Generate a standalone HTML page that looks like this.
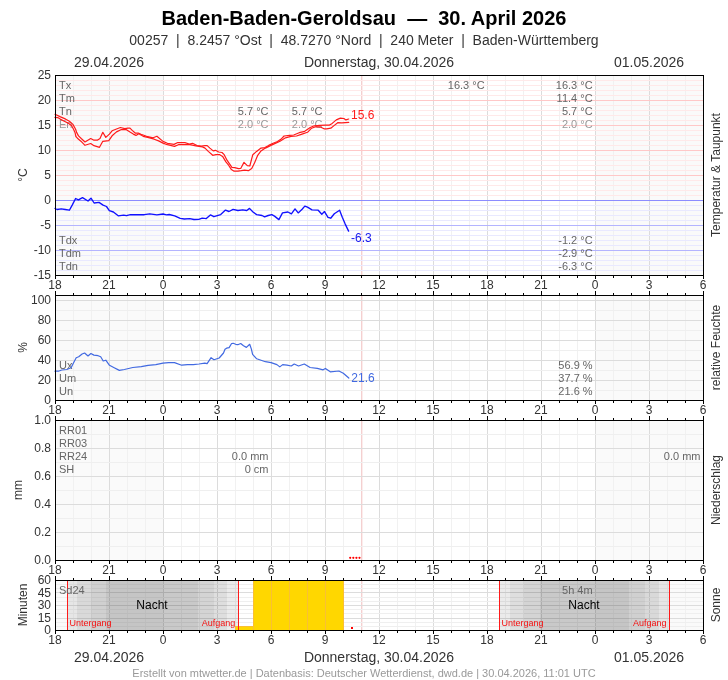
<!DOCTYPE html>
<html><head><meta charset="utf-8"><title>Baden-Baden-Geroldsau</title>
<style>
html,body{margin:0;padding:0;background:#fff;}
svg{display:block;}
text{font-family:"Liberation Sans", Arial, sans-serif;}
</style></head>
<body>
<svg width="728" height="680" viewBox="0 0 728 680" shape-rendering="auto">
<rect width="728" height="680" fill="#fff"/>
<text x="364" y="25" font-size="20" fill="#000" text-anchor="middle" font-weight="bold" >Baden-Baden-Geroldsau&#160; —&#160; 30. April 2026</text>
<text x="364" y="45" font-size="14" fill="#333" text-anchor="middle" font-weight="normal" >00257&#160; |&#160; 8.2457 °Ost&#160; |&#160; 48.7270 °Nord&#160; |&#160; 240 Meter&#160; |&#160; Baden-Württemberg</text>
<text x="109.0" y="67" font-size="14" fill="#333" text-anchor="middle" font-weight="normal" >29.04.2026</text>
<text x="379.0" y="67" font-size="14" fill="#333" text-anchor="middle" font-weight="normal" >Donnerstag, 30.04.2026</text>
<text x="649.0" y="67" font-size="14" fill="#333" text-anchor="middle" font-weight="normal" >01.05.2026</text>
<rect x="55" y="75" width="648" height="200" fill="#ffffff" />
<rect x="56" y="76" width="107" height="199" fill="#fafafa" />
<rect x="595" y="76" width="108" height="199" fill="#fafafa" />
<line x1="73.5" y1="76" x2="73.5" y2="275" stroke="#f1f1f1" stroke-width="1"/>
<line x1="91.5" y1="76" x2="91.5" y2="275" stroke="#f1f1f1" stroke-width="1"/>
<line x1="109.5" y1="76" x2="109.5" y2="275" stroke="#dcdcdc" stroke-width="1"/>
<line x1="127.5" y1="76" x2="127.5" y2="275" stroke="#f1f1f1" stroke-width="1"/>
<line x1="145.5" y1="76" x2="145.5" y2="275" stroke="#f1f1f1" stroke-width="1"/>
<line x1="163.5" y1="76" x2="163.5" y2="275" stroke="#dcdcdc" stroke-width="1"/>
<line x1="181.5" y1="76" x2="181.5" y2="275" stroke="#f1f1f1" stroke-width="1"/>
<line x1="199.5" y1="76" x2="199.5" y2="275" stroke="#f1f1f1" stroke-width="1"/>
<line x1="217.5" y1="76" x2="217.5" y2="275" stroke="#dcdcdc" stroke-width="1"/>
<line x1="235.5" y1="76" x2="235.5" y2="275" stroke="#f1f1f1" stroke-width="1"/>
<line x1="253.5" y1="76" x2="253.5" y2="275" stroke="#f1f1f1" stroke-width="1"/>
<line x1="271.5" y1="76" x2="271.5" y2="275" stroke="#dcdcdc" stroke-width="1"/>
<line x1="289.5" y1="76" x2="289.5" y2="275" stroke="#f1f1f1" stroke-width="1"/>
<line x1="307.5" y1="76" x2="307.5" y2="275" stroke="#f1f1f1" stroke-width="1"/>
<line x1="325.5" y1="76" x2="325.5" y2="275" stroke="#dcdcdc" stroke-width="1"/>
<line x1="343.5" y1="76" x2="343.5" y2="275" stroke="#f1f1f1" stroke-width="1"/>
<line x1="361.5" y1="76" x2="361.5" y2="275" stroke="#f1f1f1" stroke-width="1"/>
<line x1="379.5" y1="76" x2="379.5" y2="275" stroke="#dcdcdc" stroke-width="1"/>
<line x1="397.5" y1="76" x2="397.5" y2="275" stroke="#f1f1f1" stroke-width="1"/>
<line x1="415.5" y1="76" x2="415.5" y2="275" stroke="#f1f1f1" stroke-width="1"/>
<line x1="433.5" y1="76" x2="433.5" y2="275" stroke="#dcdcdc" stroke-width="1"/>
<line x1="451.5" y1="76" x2="451.5" y2="275" stroke="#f1f1f1" stroke-width="1"/>
<line x1="469.5" y1="76" x2="469.5" y2="275" stroke="#f1f1f1" stroke-width="1"/>
<line x1="487.5" y1="76" x2="487.5" y2="275" stroke="#dcdcdc" stroke-width="1"/>
<line x1="505.5" y1="76" x2="505.5" y2="275" stroke="#f1f1f1" stroke-width="1"/>
<line x1="523.5" y1="76" x2="523.5" y2="275" stroke="#f1f1f1" stroke-width="1"/>
<line x1="541.5" y1="76" x2="541.5" y2="275" stroke="#dcdcdc" stroke-width="1"/>
<line x1="559.5" y1="76" x2="559.5" y2="275" stroke="#f1f1f1" stroke-width="1"/>
<line x1="577.5" y1="76" x2="577.5" y2="275" stroke="#f1f1f1" stroke-width="1"/>
<line x1="595.5" y1="76" x2="595.5" y2="275" stroke="#dcdcdc" stroke-width="1"/>
<line x1="613.5" y1="76" x2="613.5" y2="275" stroke="#f1f1f1" stroke-width="1"/>
<line x1="631.5" y1="76" x2="631.5" y2="275" stroke="#f1f1f1" stroke-width="1"/>
<line x1="649.5" y1="76" x2="649.5" y2="275" stroke="#dcdcdc" stroke-width="1"/>
<line x1="667.5" y1="76" x2="667.5" y2="275" stroke="#f1f1f1" stroke-width="1"/>
<line x1="685.5" y1="76" x2="685.5" y2="275" stroke="#f1f1f1" stroke-width="1"/>
<line x1="361.8" y1="76" x2="361.8" y2="275" stroke="#f5c2c2" stroke-width="1"/>
<line x1="56" y1="270.5" x2="703" y2="270.5" stroke="#e9e9ff" stroke-width="1"/>
<line x1="56" y1="265.5" x2="703" y2="265.5" stroke="#e9e9ff" stroke-width="1"/>
<line x1="56" y1="260.5" x2="703" y2="260.5" stroke="#e9e9ff" stroke-width="1"/>
<line x1="56" y1="255.5" x2="703" y2="255.5" stroke="#e9e9ff" stroke-width="1"/>
<line x1="56" y1="250.5" x2="703" y2="250.5" stroke="#b4b4ff" stroke-width="1"/>
<line x1="56" y1="245.5" x2="703" y2="245.5" stroke="#e9e9ff" stroke-width="1"/>
<line x1="56" y1="240.5" x2="703" y2="240.5" stroke="#e9e9ff" stroke-width="1"/>
<line x1="56" y1="235.5" x2="703" y2="235.5" stroke="#e9e9ff" stroke-width="1"/>
<line x1="56" y1="230.5" x2="703" y2="230.5" stroke="#e9e9ff" stroke-width="1"/>
<line x1="56" y1="225.5" x2="703" y2="225.5" stroke="#b4b4ff" stroke-width="1"/>
<line x1="56" y1="220.5" x2="703" y2="220.5" stroke="#e9e9ff" stroke-width="1"/>
<line x1="56" y1="215.5" x2="703" y2="215.5" stroke="#e9e9ff" stroke-width="1"/>
<line x1="56" y1="210.5" x2="703" y2="210.5" stroke="#e9e9ff" stroke-width="1"/>
<line x1="56" y1="205.5" x2="703" y2="205.5" stroke="#e9e9ff" stroke-width="1"/>
<line x1="56" y1="195.5" x2="703" y2="195.5" stroke="#ffe9e9" stroke-width="1"/>
<line x1="56" y1="190.5" x2="703" y2="190.5" stroke="#ffe9e9" stroke-width="1"/>
<line x1="56" y1="185.5" x2="703" y2="185.5" stroke="#ffe9e9" stroke-width="1"/>
<line x1="56" y1="180.5" x2="703" y2="180.5" stroke="#ffe9e9" stroke-width="1"/>
<line x1="56" y1="175.5" x2="703" y2="175.5" stroke="#ffc8c8" stroke-width="1"/>
<line x1="56" y1="170.5" x2="703" y2="170.5" stroke="#ffe9e9" stroke-width="1"/>
<line x1="56" y1="165.5" x2="703" y2="165.5" stroke="#ffe9e9" stroke-width="1"/>
<line x1="56" y1="160.5" x2="703" y2="160.5" stroke="#ffe9e9" stroke-width="1"/>
<line x1="56" y1="155.5" x2="703" y2="155.5" stroke="#ffe9e9" stroke-width="1"/>
<line x1="56" y1="150.5" x2="703" y2="150.5" stroke="#ffc8c8" stroke-width="1"/>
<line x1="56" y1="145.5" x2="703" y2="145.5" stroke="#ffe9e9" stroke-width="1"/>
<line x1="56" y1="140.5" x2="703" y2="140.5" stroke="#ffe9e9" stroke-width="1"/>
<line x1="56" y1="135.5" x2="703" y2="135.5" stroke="#ffe9e9" stroke-width="1"/>
<line x1="56" y1="130.5" x2="703" y2="130.5" stroke="#ffe9e9" stroke-width="1"/>
<line x1="56" y1="125.5" x2="703" y2="125.5" stroke="#ffc8c8" stroke-width="1"/>
<line x1="56" y1="120.5" x2="703" y2="120.5" stroke="#ffe9e9" stroke-width="1"/>
<line x1="56" y1="115.5" x2="703" y2="115.5" stroke="#ffe9e9" stroke-width="1"/>
<line x1="56" y1="110.5" x2="703" y2="110.5" stroke="#ffe9e9" stroke-width="1"/>
<line x1="56" y1="105.5" x2="703" y2="105.5" stroke="#ffe9e9" stroke-width="1"/>
<line x1="56" y1="100.5" x2="703" y2="100.5" stroke="#ffc8c8" stroke-width="1"/>
<line x1="56" y1="95.5" x2="703" y2="95.5" stroke="#ffe9e9" stroke-width="1"/>
<line x1="56" y1="90.5" x2="703" y2="90.5" stroke="#ffe9e9" stroke-width="1"/>
<line x1="56" y1="85.5" x2="703" y2="85.5" stroke="#ffe9e9" stroke-width="1"/>
<line x1="56" y1="80.5" x2="703" y2="80.5" stroke="#ffe9e9" stroke-width="1"/>
<line x1="56" y1="200.5" x2="703" y2="200.5" stroke="#8c8cff" stroke-width="1"/>
<text x="59" y="88.7" font-size="11" fill="#666" text-anchor="start" >Tx</text>
<text x="59" y="101.60000000000001" font-size="11" fill="#666" text-anchor="start" >Tm</text>
<text x="59" y="114.5" font-size="11" fill="#666" text-anchor="start" >Tn</text>
<text x="59" y="128.4" font-size="11" fill="#999" text-anchor="start" >En</text>
<text x="59" y="243.8" font-size="11" fill="#666" text-anchor="start" >Tdx</text>
<text x="59" y="256.75" font-size="11" fill="#666" text-anchor="start" >Tdm</text>
<text x="59" y="269.7" font-size="11" fill="#666" text-anchor="start" >Tdn</text>
<text x="484.6" y="88.7" font-size="11" fill="#666" text-anchor="end" >16.3 °C</text>
<text x="592.6" y="88.7" font-size="11" fill="#666" text-anchor="end" >16.3 °C</text>
<text x="592.6" y="101.60000000000001" font-size="11" fill="#666" text-anchor="end" >11.4 °C</text>
<text x="592.6" y="114.5" font-size="11" fill="#666" text-anchor="end" >5.7 °C</text>
<text x="592.6" y="128.4" font-size="11" fill="#999" text-anchor="end" >2.0 °C</text>
<text x="268.5" y="114.5" font-size="11" fill="#666" text-anchor="end" >5.7 °C</text>
<text x="268.5" y="128.4" font-size="11" fill="#999" text-anchor="end" >2.0 °C</text>
<text x="322.5" y="114.5" font-size="11" fill="#666" text-anchor="end" >5.7 °C</text>
<text x="322.5" y="128.4" font-size="11" fill="#999" text-anchor="end" >2.0 °C</text>
<text x="592.6" y="243.8" font-size="11" fill="#666" text-anchor="end" >-1.2 °C</text>
<text x="592.6" y="256.75" font-size="11" fill="#666" text-anchor="end" >-2.9 °C</text>
<text x="592.6" y="269.7" font-size="11" fill="#666" text-anchor="end" >-6.3 °C</text>
<text x="351" y="118.6" font-size="12" fill="#ff1a1a" text-anchor="start" >15.6</text>
<text x="351" y="242.3" font-size="12" fill="#1515ee" text-anchor="start" >-6.3</text>
<polyline points="55.0,114.3 60.5,116.9 65.3,118.9 69.4,121.3 72.9,124.4 75.6,129.2 76.6,132.4 78.5,135.9 81.5,138.8 85.0,142.0 90.7,138.5 94.0,140.2 97.3,140.2 100.0,138.5 102.8,132.3 105.8,137.4 109.4,134.1 112.1,130.8 116.5,129.0 120.4,127.5 124.8,128.6 128.0,128.2 130.0,128.2 132.2,130.4 135.5,133.2 138.2,133.0 141.0,134.3 146.5,136.3 153.1,137.8 156.9,136.3 163.0,141.4 167.4,143.3 174.0,144.4 177.8,142.5 184.9,142.7 189.3,144.0 192.6,143.3 197.0,145.5 201.4,146.0 205.0,145.6 207.2,145.6 209.9,148.1 213.2,150.9 215.4,150.3 218.7,152.0 222.0,152.5 224.2,154.7 227.0,160.2 231.9,167.4 234.7,167.6 238.5,168.7 240.7,168.5 244.0,162.4 247.3,165.7 249.8,166.0 252.8,154.7 256.6,151.4 261.0,148.1 264.9,147.6 268.7,145.4 273.1,143.2 277.5,141.5 280.8,139.3 284.1,136.0 289.6,135.4 293.7,135.0 299.2,132.7 304.7,131.3 310.2,127.5 314.3,125.8 319.8,125.4 325.3,125.1 329.5,125.1 332.2,123.4 336.3,119.9 340.4,118.1 343.9,118.5 345.9,119.9 348.7,119.0" fill="none" stroke="#ff1a1a" stroke-width="1.2" stroke-linejoin="round" stroke-linecap="round" />
<polyline points="55.0,117.4 57.7,117.6 60.2,119.1 65.3,121.7 68.7,123.4 71.5,125.5 73.5,129.2 75.0,132.4 75.9,136.5 77.4,138.2 80.9,141.2 85.0,145.3 90.7,143.5 94.0,145.7 99.5,147.3 102.8,141.3 108.8,140.7 112.1,135.8 116.5,131.9 120.9,129.7 126.4,129.7 130.0,132.1 133.3,134.1 136.0,135.4 138.8,133.7 143.2,136.3 148.7,137.6 154.2,139.2 158.6,140.9 163.0,143.1 167.4,144.7 174.5,146.4 178.4,144.7 184.9,144.7 189.9,144.7 195.9,145.8 202.5,146.9 205.0,148.1 208.3,151.4 212.7,155.3 216.0,154.7 219.8,154.7 222.6,156.4 225.9,161.9 228.6,165.2 231.4,169.6 234.1,171.2 238.0,171.2 241.3,170.7 244.6,170.1 248.4,170.7 251.7,168.5 254.5,163.0 257.7,155.3 261.0,150.9 265.4,148.1 270.9,145.4 275.3,143.4 280.0,141.2 285.5,137.8 291.0,136.4 296.5,136.0 302.0,134.1 307.5,132.3 311.6,128.2 315.7,126.8 319.8,126.8 324.0,128.8 326.7,128.8 330.8,128.2 334.3,125.4 337.7,122.7 341.8,122.9 348.7,122.4" fill="none" stroke="#ff1a1a" stroke-width="1.2" stroke-linejoin="round" stroke-linecap="round" />
<polyline points="55.0,208.5 57.1,209.5 61.2,208.8 65.3,209.5 69.4,210.2 72.2,205.1 75.6,198.5 78.4,199.9 82.5,197.6 88.0,201.0 91.0,198.2 94.1,203.0 99.0,202.4 103.1,205.1 106.5,206.5 109.3,210.6 113.4,212.0 118.2,215.8 123.7,215.1 126.4,215.7 130.5,214.7 137.4,214.7 144.3,214.7 149.8,213.8 156.9,214.9 163.0,214.0 166.5,214.9 169.2,214.5 174.7,215.9 180.2,218.4 184.3,219.0 189.8,218.6 194.0,219.5 198.8,219.3 202.2,218.1 206.3,218.6 210.4,214.9 213.9,216.7 217.3,215.6 220.7,214.6 225.5,210.1 229.0,211.5 233.1,209.4 237.9,210.5 242.7,209.8 246.8,210.5 249.5,208.4 253.0,212.0 256.6,214.6 262.0,215.5 264.6,216.8 268.2,215.5 271.8,214.6 274.5,216.1 278.9,219.6 282.5,212.9 287.9,212.0 291.4,213.8 295.0,208.9 298.2,212.9 302.1,209.3 304.8,206.1 307.5,207.1 312.0,209.8 318.2,210.2 321.8,214.3 324.5,211.6 328.0,217.3 330.7,218.2 334.3,213.8 339.6,210.2 342.3,217.3 345.0,223.6 348.6,231.1" fill="none" stroke="#1010ff" stroke-width="1.35" stroke-linejoin="round" stroke-linecap="round" />
<rect x="55.5" y="75.5" width="648" height="200" fill="none" stroke="#000" stroke-width="1"/>
<line x1="55.5" y1="275" x2="55.5" y2="279" stroke="#000" stroke-width="1"/>
<line x1="73.5" y1="275" x2="73.5" y2="278" stroke="#000" stroke-width="1"/>
<line x1="91.5" y1="275" x2="91.5" y2="278" stroke="#000" stroke-width="1"/>
<line x1="109.5" y1="275" x2="109.5" y2="279" stroke="#000" stroke-width="1"/>
<line x1="127.5" y1="275" x2="127.5" y2="278" stroke="#000" stroke-width="1"/>
<line x1="145.5" y1="275" x2="145.5" y2="278" stroke="#000" stroke-width="1"/>
<line x1="163.5" y1="275" x2="163.5" y2="279" stroke="#000" stroke-width="1"/>
<line x1="181.5" y1="275" x2="181.5" y2="278" stroke="#000" stroke-width="1"/>
<line x1="199.5" y1="275" x2="199.5" y2="278" stroke="#000" stroke-width="1"/>
<line x1="217.5" y1="275" x2="217.5" y2="279" stroke="#000" stroke-width="1"/>
<line x1="235.5" y1="275" x2="235.5" y2="278" stroke="#000" stroke-width="1"/>
<line x1="253.5" y1="275" x2="253.5" y2="278" stroke="#000" stroke-width="1"/>
<line x1="271.5" y1="275" x2="271.5" y2="279" stroke="#000" stroke-width="1"/>
<line x1="289.5" y1="275" x2="289.5" y2="278" stroke="#000" stroke-width="1"/>
<line x1="307.5" y1="275" x2="307.5" y2="278" stroke="#000" stroke-width="1"/>
<line x1="325.5" y1="275" x2="325.5" y2="279" stroke="#000" stroke-width="1"/>
<line x1="343.5" y1="275" x2="343.5" y2="278" stroke="#000" stroke-width="1"/>
<line x1="361.5" y1="275" x2="361.5" y2="278" stroke="#000" stroke-width="1"/>
<line x1="379.5" y1="275" x2="379.5" y2="279" stroke="#000" stroke-width="1"/>
<line x1="397.5" y1="275" x2="397.5" y2="278" stroke="#000" stroke-width="1"/>
<line x1="415.5" y1="275" x2="415.5" y2="278" stroke="#000" stroke-width="1"/>
<line x1="433.5" y1="275" x2="433.5" y2="279" stroke="#000" stroke-width="1"/>
<line x1="451.5" y1="275" x2="451.5" y2="278" stroke="#000" stroke-width="1"/>
<line x1="469.5" y1="275" x2="469.5" y2="278" stroke="#000" stroke-width="1"/>
<line x1="487.5" y1="275" x2="487.5" y2="279" stroke="#000" stroke-width="1"/>
<line x1="505.5" y1="275" x2="505.5" y2="278" stroke="#000" stroke-width="1"/>
<line x1="523.5" y1="275" x2="523.5" y2="278" stroke="#000" stroke-width="1"/>
<line x1="541.5" y1="275" x2="541.5" y2="279" stroke="#000" stroke-width="1"/>
<line x1="559.5" y1="275" x2="559.5" y2="278" stroke="#000" stroke-width="1"/>
<line x1="577.5" y1="275" x2="577.5" y2="278" stroke="#000" stroke-width="1"/>
<line x1="595.5" y1="275" x2="595.5" y2="279" stroke="#000" stroke-width="1"/>
<line x1="613.5" y1="275" x2="613.5" y2="278" stroke="#000" stroke-width="1"/>
<line x1="631.5" y1="275" x2="631.5" y2="278" stroke="#000" stroke-width="1"/>
<line x1="649.5" y1="275" x2="649.5" y2="279" stroke="#000" stroke-width="1"/>
<line x1="667.5" y1="275" x2="667.5" y2="278" stroke="#000" stroke-width="1"/>
<line x1="685.5" y1="275" x2="685.5" y2="278" stroke="#000" stroke-width="1"/>
<line x1="703.5" y1="275" x2="703.5" y2="279" stroke="#000" stroke-width="1"/>
<text x="51" y="79.3" font-size="12" fill="#333" text-anchor="end" font-weight="normal" >25</text>
<text x="51" y="104.3" font-size="12" fill="#333" text-anchor="end" font-weight="normal" >20</text>
<text x="51" y="129.3" font-size="12" fill="#333" text-anchor="end" font-weight="normal" >15</text>
<text x="51" y="154.3" font-size="12" fill="#333" text-anchor="end" font-weight="normal" >10</text>
<text x="51" y="179.3" font-size="12" fill="#333" text-anchor="end" font-weight="normal" >5</text>
<text x="51" y="204.3" font-size="12" fill="#333" text-anchor="end" font-weight="normal" >0</text>
<text x="51" y="229.3" font-size="12" fill="#333" text-anchor="end" font-weight="normal" >-5</text>
<text x="51" y="254.3" font-size="12" fill="#333" text-anchor="end" font-weight="normal" >-10</text>
<text x="51" y="279.3" font-size="12" fill="#333" text-anchor="end" font-weight="normal" >-15</text>
<text x="55.0" y="289" font-size="12" fill="#333" text-anchor="middle" font-weight="normal" >18</text>
<text x="109.0" y="289" font-size="12" fill="#333" text-anchor="middle" font-weight="normal" >21</text>
<text x="163.0" y="289" font-size="12" fill="#333" text-anchor="middle" font-weight="normal" >0</text>
<text x="217.0" y="289" font-size="12" fill="#333" text-anchor="middle" font-weight="normal" >3</text>
<text x="271.0" y="289" font-size="12" fill="#333" text-anchor="middle" font-weight="normal" >6</text>
<text x="325.0" y="289" font-size="12" fill="#333" text-anchor="middle" font-weight="normal" >9</text>
<text x="379.0" y="289" font-size="12" fill="#333" text-anchor="middle" font-weight="normal" >12</text>
<text x="433.0" y="289" font-size="12" fill="#333" text-anchor="middle" font-weight="normal" >15</text>
<text x="487.0" y="289" font-size="12" fill="#333" text-anchor="middle" font-weight="normal" >18</text>
<text x="541.0" y="289" font-size="12" fill="#333" text-anchor="middle" font-weight="normal" >21</text>
<text x="595.0" y="289" font-size="12" fill="#333" text-anchor="middle" font-weight="normal" >0</text>
<text x="649.0" y="289" font-size="12" fill="#333" text-anchor="middle" font-weight="normal" >3</text>
<text x="703.0" y="289" font-size="12" fill="#333" text-anchor="middle" font-weight="normal" >6</text>
<rect x="55" y="295" width="648" height="105" fill="#ffffff" />
<rect x="56" y="296" width="107" height="104" fill="#fafafa" />
<rect x="595" y="296" width="108" height="104" fill="#fafafa" />
<line x1="73.5" y1="296" x2="73.5" y2="400" stroke="#f1f1f1" stroke-width="1"/>
<line x1="91.5" y1="296" x2="91.5" y2="400" stroke="#f1f1f1" stroke-width="1"/>
<line x1="109.5" y1="296" x2="109.5" y2="400" stroke="#dcdcdc" stroke-width="1"/>
<line x1="127.5" y1="296" x2="127.5" y2="400" stroke="#f1f1f1" stroke-width="1"/>
<line x1="145.5" y1="296" x2="145.5" y2="400" stroke="#f1f1f1" stroke-width="1"/>
<line x1="163.5" y1="296" x2="163.5" y2="400" stroke="#dcdcdc" stroke-width="1"/>
<line x1="181.5" y1="296" x2="181.5" y2="400" stroke="#f1f1f1" stroke-width="1"/>
<line x1="199.5" y1="296" x2="199.5" y2="400" stroke="#f1f1f1" stroke-width="1"/>
<line x1="217.5" y1="296" x2="217.5" y2="400" stroke="#dcdcdc" stroke-width="1"/>
<line x1="235.5" y1="296" x2="235.5" y2="400" stroke="#f1f1f1" stroke-width="1"/>
<line x1="253.5" y1="296" x2="253.5" y2="400" stroke="#f1f1f1" stroke-width="1"/>
<line x1="271.5" y1="296" x2="271.5" y2="400" stroke="#dcdcdc" stroke-width="1"/>
<line x1="289.5" y1="296" x2="289.5" y2="400" stroke="#f1f1f1" stroke-width="1"/>
<line x1="307.5" y1="296" x2="307.5" y2="400" stroke="#f1f1f1" stroke-width="1"/>
<line x1="325.5" y1="296" x2="325.5" y2="400" stroke="#dcdcdc" stroke-width="1"/>
<line x1="343.5" y1="296" x2="343.5" y2="400" stroke="#f1f1f1" stroke-width="1"/>
<line x1="361.5" y1="296" x2="361.5" y2="400" stroke="#f1f1f1" stroke-width="1"/>
<line x1="379.5" y1="296" x2="379.5" y2="400" stroke="#dcdcdc" stroke-width="1"/>
<line x1="397.5" y1="296" x2="397.5" y2="400" stroke="#f1f1f1" stroke-width="1"/>
<line x1="415.5" y1="296" x2="415.5" y2="400" stroke="#f1f1f1" stroke-width="1"/>
<line x1="433.5" y1="296" x2="433.5" y2="400" stroke="#dcdcdc" stroke-width="1"/>
<line x1="451.5" y1="296" x2="451.5" y2="400" stroke="#f1f1f1" stroke-width="1"/>
<line x1="469.5" y1="296" x2="469.5" y2="400" stroke="#f1f1f1" stroke-width="1"/>
<line x1="487.5" y1="296" x2="487.5" y2="400" stroke="#dcdcdc" stroke-width="1"/>
<line x1="505.5" y1="296" x2="505.5" y2="400" stroke="#f1f1f1" stroke-width="1"/>
<line x1="523.5" y1="296" x2="523.5" y2="400" stroke="#f1f1f1" stroke-width="1"/>
<line x1="541.5" y1="296" x2="541.5" y2="400" stroke="#dcdcdc" stroke-width="1"/>
<line x1="559.5" y1="296" x2="559.5" y2="400" stroke="#f1f1f1" stroke-width="1"/>
<line x1="577.5" y1="296" x2="577.5" y2="400" stroke="#f1f1f1" stroke-width="1"/>
<line x1="595.5" y1="296" x2="595.5" y2="400" stroke="#dcdcdc" stroke-width="1"/>
<line x1="613.5" y1="296" x2="613.5" y2="400" stroke="#f1f1f1" stroke-width="1"/>
<line x1="631.5" y1="296" x2="631.5" y2="400" stroke="#f1f1f1" stroke-width="1"/>
<line x1="649.5" y1="296" x2="649.5" y2="400" stroke="#dcdcdc" stroke-width="1"/>
<line x1="667.5" y1="296" x2="667.5" y2="400" stroke="#f1f1f1" stroke-width="1"/>
<line x1="685.5" y1="296" x2="685.5" y2="400" stroke="#f1f1f1" stroke-width="1"/>
<line x1="361.8" y1="296" x2="361.8" y2="400" stroke="#f5c2c2" stroke-width="1"/>
<line x1="56" y1="390.5" x2="703" y2="390.5" stroke="#efefef" stroke-width="1"/>
<line x1="56" y1="380.5" x2="703" y2="380.5" stroke="#dcdcdc" stroke-width="1"/>
<line x1="56" y1="370.5" x2="703" y2="370.5" stroke="#efefef" stroke-width="1"/>
<line x1="56" y1="360.5" x2="703" y2="360.5" stroke="#dcdcdc" stroke-width="1"/>
<line x1="56" y1="350.5" x2="703" y2="350.5" stroke="#efefef" stroke-width="1"/>
<line x1="56" y1="340.5" x2="703" y2="340.5" stroke="#dcdcdc" stroke-width="1"/>
<line x1="56" y1="330.5" x2="703" y2="330.5" stroke="#efefef" stroke-width="1"/>
<line x1="56" y1="320.5" x2="703" y2="320.5" stroke="#dcdcdc" stroke-width="1"/>
<line x1="56" y1="310.5" x2="703" y2="310.5" stroke="#efefef" stroke-width="1"/>
<line x1="56" y1="300.5" x2="703" y2="300.5" stroke="#dcdcdc" stroke-width="1"/>
<text x="59" y="368.6" font-size="11" fill="#666" text-anchor="start" >Ux</text>
<text x="59" y="381.55" font-size="11" fill="#666" text-anchor="start" >Um</text>
<text x="59" y="394.5" font-size="11" fill="#666" text-anchor="start" >Un</text>
<text x="592.6" y="368.6" font-size="11" fill="#666" text-anchor="end" >56.9 %</text>
<text x="592.6" y="381.55" font-size="11" fill="#666" text-anchor="end" >37.7 %</text>
<text x="592.6" y="394.5" font-size="11" fill="#666" text-anchor="end" >21.6 %</text>
<text x="351.3" y="382.1" font-size="12" fill="#4169e1" text-anchor="start" >21.6</text>
<polyline points="55.0,371.2 58.4,371.2 61.8,370.0 66.8,369.5 71.1,367.8 73.6,362.8 76.2,357.7 78.7,356.8 82.1,354.0 84.6,353.0 88.0,356.0 90.9,353.5 93.9,355.1 98.1,355.7 100.7,356.8 103.2,361.0 105.8,360.2 109.5,365.3 114.2,367.8 119.3,370.4 124.4,369.5 132.8,367.5 141.3,366.7 148.1,365.3 155.8,364.6 163.0,363.2 168.7,362.6 174.5,362.6 181.7,365.2 187.5,364.6 193.3,364.6 199.0,364.0 204.8,363.2 207.1,363.7 211.1,357.7 214.0,359.7 219.2,358.0 223.5,353.0 225.0,349.3 226.6,348.2 229.1,347.6 231.6,343.5 233.2,343.3 235.7,344.3 237.8,344.7 240.7,343.5 243.5,345.8 246.4,347.4 249.7,344.3 251.4,349.1 252.6,354.4 256.7,358.8 265.4,361.7 271.1,362.6 276.9,364.6 279.8,366.9 282.7,364.6 287.0,365.2 291.3,366.0 294.2,364.0 298.5,366.0 304.3,364.0 310.1,367.5 317.3,368.4 323.1,369.8 325.4,368.4 330.3,371.8 338.9,371.0 343.3,373.3 348.8,378.0" fill="none" stroke="#4169e1" stroke-width="1.2" stroke-linejoin="round" stroke-linecap="round" />
<rect x="55.5" y="295.5" width="648" height="105" fill="none" stroke="#000" stroke-width="1"/>
<line x1="55.5" y1="400" x2="55.5" y2="404" stroke="#000" stroke-width="1"/>
<line x1="55.5" y1="291" x2="55.5" y2="295" stroke="#000" stroke-width="1"/>
<line x1="73.5" y1="400" x2="73.5" y2="403" stroke="#000" stroke-width="1"/>
<line x1="73.5" y1="293" x2="73.5" y2="295" stroke="#000" stroke-width="1"/>
<line x1="91.5" y1="400" x2="91.5" y2="403" stroke="#000" stroke-width="1"/>
<line x1="91.5" y1="293" x2="91.5" y2="295" stroke="#000" stroke-width="1"/>
<line x1="109.5" y1="400" x2="109.5" y2="404" stroke="#000" stroke-width="1"/>
<line x1="109.5" y1="291" x2="109.5" y2="295" stroke="#000" stroke-width="1"/>
<line x1="127.5" y1="400" x2="127.5" y2="403" stroke="#000" stroke-width="1"/>
<line x1="127.5" y1="293" x2="127.5" y2="295" stroke="#000" stroke-width="1"/>
<line x1="145.5" y1="400" x2="145.5" y2="403" stroke="#000" stroke-width="1"/>
<line x1="145.5" y1="293" x2="145.5" y2="295" stroke="#000" stroke-width="1"/>
<line x1="163.5" y1="400" x2="163.5" y2="404" stroke="#000" stroke-width="1"/>
<line x1="163.5" y1="291" x2="163.5" y2="295" stroke="#000" stroke-width="1"/>
<line x1="181.5" y1="400" x2="181.5" y2="403" stroke="#000" stroke-width="1"/>
<line x1="181.5" y1="293" x2="181.5" y2="295" stroke="#000" stroke-width="1"/>
<line x1="199.5" y1="400" x2="199.5" y2="403" stroke="#000" stroke-width="1"/>
<line x1="199.5" y1="293" x2="199.5" y2="295" stroke="#000" stroke-width="1"/>
<line x1="217.5" y1="400" x2="217.5" y2="404" stroke="#000" stroke-width="1"/>
<line x1="217.5" y1="291" x2="217.5" y2="295" stroke="#000" stroke-width="1"/>
<line x1="235.5" y1="400" x2="235.5" y2="403" stroke="#000" stroke-width="1"/>
<line x1="235.5" y1="293" x2="235.5" y2="295" stroke="#000" stroke-width="1"/>
<line x1="253.5" y1="400" x2="253.5" y2="403" stroke="#000" stroke-width="1"/>
<line x1="253.5" y1="293" x2="253.5" y2="295" stroke="#000" stroke-width="1"/>
<line x1="271.5" y1="400" x2="271.5" y2="404" stroke="#000" stroke-width="1"/>
<line x1="271.5" y1="291" x2="271.5" y2="295" stroke="#000" stroke-width="1"/>
<line x1="289.5" y1="400" x2="289.5" y2="403" stroke="#000" stroke-width="1"/>
<line x1="289.5" y1="293" x2="289.5" y2="295" stroke="#000" stroke-width="1"/>
<line x1="307.5" y1="400" x2="307.5" y2="403" stroke="#000" stroke-width="1"/>
<line x1="307.5" y1="293" x2="307.5" y2="295" stroke="#000" stroke-width="1"/>
<line x1="325.5" y1="400" x2="325.5" y2="404" stroke="#000" stroke-width="1"/>
<line x1="325.5" y1="291" x2="325.5" y2="295" stroke="#000" stroke-width="1"/>
<line x1="343.5" y1="400" x2="343.5" y2="403" stroke="#000" stroke-width="1"/>
<line x1="343.5" y1="293" x2="343.5" y2="295" stroke="#000" stroke-width="1"/>
<line x1="361.5" y1="400" x2="361.5" y2="403" stroke="#000" stroke-width="1"/>
<line x1="361.5" y1="293" x2="361.5" y2="295" stroke="#000" stroke-width="1"/>
<line x1="379.5" y1="400" x2="379.5" y2="404" stroke="#000" stroke-width="1"/>
<line x1="379.5" y1="291" x2="379.5" y2="295" stroke="#000" stroke-width="1"/>
<line x1="397.5" y1="400" x2="397.5" y2="403" stroke="#000" stroke-width="1"/>
<line x1="397.5" y1="293" x2="397.5" y2="295" stroke="#000" stroke-width="1"/>
<line x1="415.5" y1="400" x2="415.5" y2="403" stroke="#000" stroke-width="1"/>
<line x1="415.5" y1="293" x2="415.5" y2="295" stroke="#000" stroke-width="1"/>
<line x1="433.5" y1="400" x2="433.5" y2="404" stroke="#000" stroke-width="1"/>
<line x1="433.5" y1="291" x2="433.5" y2="295" stroke="#000" stroke-width="1"/>
<line x1="451.5" y1="400" x2="451.5" y2="403" stroke="#000" stroke-width="1"/>
<line x1="451.5" y1="293" x2="451.5" y2="295" stroke="#000" stroke-width="1"/>
<line x1="469.5" y1="400" x2="469.5" y2="403" stroke="#000" stroke-width="1"/>
<line x1="469.5" y1="293" x2="469.5" y2="295" stroke="#000" stroke-width="1"/>
<line x1="487.5" y1="400" x2="487.5" y2="404" stroke="#000" stroke-width="1"/>
<line x1="487.5" y1="291" x2="487.5" y2="295" stroke="#000" stroke-width="1"/>
<line x1="505.5" y1="400" x2="505.5" y2="403" stroke="#000" stroke-width="1"/>
<line x1="505.5" y1="293" x2="505.5" y2="295" stroke="#000" stroke-width="1"/>
<line x1="523.5" y1="400" x2="523.5" y2="403" stroke="#000" stroke-width="1"/>
<line x1="523.5" y1="293" x2="523.5" y2="295" stroke="#000" stroke-width="1"/>
<line x1="541.5" y1="400" x2="541.5" y2="404" stroke="#000" stroke-width="1"/>
<line x1="541.5" y1="291" x2="541.5" y2="295" stroke="#000" stroke-width="1"/>
<line x1="559.5" y1="400" x2="559.5" y2="403" stroke="#000" stroke-width="1"/>
<line x1="559.5" y1="293" x2="559.5" y2="295" stroke="#000" stroke-width="1"/>
<line x1="577.5" y1="400" x2="577.5" y2="403" stroke="#000" stroke-width="1"/>
<line x1="577.5" y1="293" x2="577.5" y2="295" stroke="#000" stroke-width="1"/>
<line x1="595.5" y1="400" x2="595.5" y2="404" stroke="#000" stroke-width="1"/>
<line x1="595.5" y1="291" x2="595.5" y2="295" stroke="#000" stroke-width="1"/>
<line x1="613.5" y1="400" x2="613.5" y2="403" stroke="#000" stroke-width="1"/>
<line x1="613.5" y1="293" x2="613.5" y2="295" stroke="#000" stroke-width="1"/>
<line x1="631.5" y1="400" x2="631.5" y2="403" stroke="#000" stroke-width="1"/>
<line x1="631.5" y1="293" x2="631.5" y2="295" stroke="#000" stroke-width="1"/>
<line x1="649.5" y1="400" x2="649.5" y2="404" stroke="#000" stroke-width="1"/>
<line x1="649.5" y1="291" x2="649.5" y2="295" stroke="#000" stroke-width="1"/>
<line x1="667.5" y1="400" x2="667.5" y2="403" stroke="#000" stroke-width="1"/>
<line x1="667.5" y1="293" x2="667.5" y2="295" stroke="#000" stroke-width="1"/>
<line x1="685.5" y1="400" x2="685.5" y2="403" stroke="#000" stroke-width="1"/>
<line x1="685.5" y1="293" x2="685.5" y2="295" stroke="#000" stroke-width="1"/>
<line x1="703.5" y1="400" x2="703.5" y2="404" stroke="#000" stroke-width="1"/>
<line x1="703.5" y1="291" x2="703.5" y2="295" stroke="#000" stroke-width="1"/>
<text x="51" y="304.3" font-size="12" fill="#333" text-anchor="end" font-weight="normal" >100</text>
<text x="51" y="324.3" font-size="12" fill="#333" text-anchor="end" font-weight="normal" >80</text>
<text x="51" y="344.3" font-size="12" fill="#333" text-anchor="end" font-weight="normal" >60</text>
<text x="51" y="364.3" font-size="12" fill="#333" text-anchor="end" font-weight="normal" >40</text>
<text x="51" y="384.3" font-size="12" fill="#333" text-anchor="end" font-weight="normal" >20</text>
<text x="51" y="404.3" font-size="12" fill="#333" text-anchor="end" font-weight="normal" >0</text>
<text x="55.0" y="413.7" font-size="12" fill="#333" text-anchor="middle" font-weight="normal" >18</text>
<text x="109.0" y="413.7" font-size="12" fill="#333" text-anchor="middle" font-weight="normal" >21</text>
<text x="163.0" y="413.7" font-size="12" fill="#333" text-anchor="middle" font-weight="normal" >0</text>
<text x="217.0" y="413.7" font-size="12" fill="#333" text-anchor="middle" font-weight="normal" >3</text>
<text x="271.0" y="413.7" font-size="12" fill="#333" text-anchor="middle" font-weight="normal" >6</text>
<text x="325.0" y="413.7" font-size="12" fill="#333" text-anchor="middle" font-weight="normal" >9</text>
<text x="379.0" y="413.7" font-size="12" fill="#333" text-anchor="middle" font-weight="normal" >12</text>
<text x="433.0" y="413.7" font-size="12" fill="#333" text-anchor="middle" font-weight="normal" >15</text>
<text x="487.0" y="413.7" font-size="12" fill="#333" text-anchor="middle" font-weight="normal" >18</text>
<text x="541.0" y="413.7" font-size="12" fill="#333" text-anchor="middle" font-weight="normal" >21</text>
<text x="595.0" y="413.7" font-size="12" fill="#333" text-anchor="middle" font-weight="normal" >0</text>
<text x="649.0" y="413.7" font-size="12" fill="#333" text-anchor="middle" font-weight="normal" >3</text>
<text x="703.0" y="413.7" font-size="12" fill="#333" text-anchor="middle" font-weight="normal" >6</text>
<rect x="55" y="420" width="648" height="140" fill="#ffffff" />
<rect x="56" y="421" width="107" height="139" fill="#fafafa" />
<rect x="595" y="421" width="108" height="139" fill="#fafafa" />
<line x1="73.5" y1="421" x2="73.5" y2="560" stroke="#f1f1f1" stroke-width="1"/>
<line x1="91.5" y1="421" x2="91.5" y2="560" stroke="#f1f1f1" stroke-width="1"/>
<line x1="109.5" y1="421" x2="109.5" y2="560" stroke="#dcdcdc" stroke-width="1"/>
<line x1="127.5" y1="421" x2="127.5" y2="560" stroke="#f1f1f1" stroke-width="1"/>
<line x1="145.5" y1="421" x2="145.5" y2="560" stroke="#f1f1f1" stroke-width="1"/>
<line x1="163.5" y1="421" x2="163.5" y2="560" stroke="#dcdcdc" stroke-width="1"/>
<line x1="181.5" y1="421" x2="181.5" y2="560" stroke="#f1f1f1" stroke-width="1"/>
<line x1="199.5" y1="421" x2="199.5" y2="560" stroke="#f1f1f1" stroke-width="1"/>
<line x1="217.5" y1="421" x2="217.5" y2="560" stroke="#dcdcdc" stroke-width="1"/>
<line x1="235.5" y1="421" x2="235.5" y2="560" stroke="#f1f1f1" stroke-width="1"/>
<line x1="253.5" y1="421" x2="253.5" y2="560" stroke="#f1f1f1" stroke-width="1"/>
<line x1="271.5" y1="421" x2="271.5" y2="560" stroke="#dcdcdc" stroke-width="1"/>
<line x1="289.5" y1="421" x2="289.5" y2="560" stroke="#f1f1f1" stroke-width="1"/>
<line x1="307.5" y1="421" x2="307.5" y2="560" stroke="#f1f1f1" stroke-width="1"/>
<line x1="325.5" y1="421" x2="325.5" y2="560" stroke="#dcdcdc" stroke-width="1"/>
<line x1="343.5" y1="421" x2="343.5" y2="560" stroke="#f1f1f1" stroke-width="1"/>
<line x1="361.5" y1="421" x2="361.5" y2="560" stroke="#f1f1f1" stroke-width="1"/>
<line x1="379.5" y1="421" x2="379.5" y2="560" stroke="#dcdcdc" stroke-width="1"/>
<line x1="397.5" y1="421" x2="397.5" y2="560" stroke="#f1f1f1" stroke-width="1"/>
<line x1="415.5" y1="421" x2="415.5" y2="560" stroke="#f1f1f1" stroke-width="1"/>
<line x1="433.5" y1="421" x2="433.5" y2="560" stroke="#dcdcdc" stroke-width="1"/>
<line x1="451.5" y1="421" x2="451.5" y2="560" stroke="#f1f1f1" stroke-width="1"/>
<line x1="469.5" y1="421" x2="469.5" y2="560" stroke="#f1f1f1" stroke-width="1"/>
<line x1="487.5" y1="421" x2="487.5" y2="560" stroke="#dcdcdc" stroke-width="1"/>
<line x1="505.5" y1="421" x2="505.5" y2="560" stroke="#f1f1f1" stroke-width="1"/>
<line x1="523.5" y1="421" x2="523.5" y2="560" stroke="#f1f1f1" stroke-width="1"/>
<line x1="541.5" y1="421" x2="541.5" y2="560" stroke="#dcdcdc" stroke-width="1"/>
<line x1="559.5" y1="421" x2="559.5" y2="560" stroke="#f1f1f1" stroke-width="1"/>
<line x1="577.5" y1="421" x2="577.5" y2="560" stroke="#f1f1f1" stroke-width="1"/>
<line x1="595.5" y1="421" x2="595.5" y2="560" stroke="#dcdcdc" stroke-width="1"/>
<line x1="613.5" y1="421" x2="613.5" y2="560" stroke="#f1f1f1" stroke-width="1"/>
<line x1="631.5" y1="421" x2="631.5" y2="560" stroke="#f1f1f1" stroke-width="1"/>
<line x1="649.5" y1="421" x2="649.5" y2="560" stroke="#dcdcdc" stroke-width="1"/>
<line x1="667.5" y1="421" x2="667.5" y2="560" stroke="#f1f1f1" stroke-width="1"/>
<line x1="685.5" y1="421" x2="685.5" y2="560" stroke="#f1f1f1" stroke-width="1"/>
<line x1="361.8" y1="421" x2="361.8" y2="560" stroke="#f5c2c2" stroke-width="1"/>
<line x1="56" y1="546.5" x2="703" y2="546.5" stroke="#efefef" stroke-width="1"/>
<line x1="56" y1="532.5" x2="703" y2="532.5" stroke="#dcdcdc" stroke-width="1"/>
<line x1="56" y1="518.5" x2="703" y2="518.5" stroke="#efefef" stroke-width="1"/>
<line x1="56" y1="504.5" x2="703" y2="504.5" stroke="#dcdcdc" stroke-width="1"/>
<line x1="56" y1="490.5" x2="703" y2="490.5" stroke="#efefef" stroke-width="1"/>
<line x1="56" y1="476.5" x2="703" y2="476.5" stroke="#dcdcdc" stroke-width="1"/>
<line x1="56" y1="462.5" x2="703" y2="462.5" stroke="#efefef" stroke-width="1"/>
<line x1="56" y1="448.5" x2="703" y2="448.5" stroke="#dcdcdc" stroke-width="1"/>
<line x1="56" y1="434.5" x2="703" y2="434.5" stroke="#efefef" stroke-width="1"/>
<text x="59" y="433.7" font-size="11" fill="#666" text-anchor="start" >RR01</text>
<text x="59" y="446.65" font-size="11" fill="#666" text-anchor="start" >RR03</text>
<text x="59" y="459.59999999999997" font-size="11" fill="#666" text-anchor="start" >RR24</text>
<text x="59" y="472.54999999999995" font-size="11" fill="#666" text-anchor="start" >SH</text>
<text x="268.5" y="459.7" font-size="11" fill="#666" text-anchor="end" >0.0 mm</text>
<text x="268.5" y="472.8" font-size="11" fill="#666" text-anchor="end" >0 cm</text>
<text x="700.5" y="459.7" font-size="11" fill="#666" text-anchor="end" >0.0 mm</text>
<circle cx="350.2" cy="557.8" r="1.1" fill="#ff0000"/>
<circle cx="353.3" cy="557.8" r="1.1" fill="#ff0000"/>
<circle cx="356.4" cy="557.8" r="1.1" fill="#ff0000"/>
<circle cx="359.5" cy="557.8" r="1.1" fill="#ff0000"/>
<rect x="55.5" y="420.5" width="648" height="140" fill="none" stroke="#000" stroke-width="1"/>
<line x1="55.5" y1="560" x2="55.5" y2="564" stroke="#000" stroke-width="1"/>
<line x1="55.5" y1="416" x2="55.5" y2="420" stroke="#000" stroke-width="1"/>
<line x1="73.5" y1="560" x2="73.5" y2="563" stroke="#000" stroke-width="1"/>
<line x1="73.5" y1="418" x2="73.5" y2="420" stroke="#000" stroke-width="1"/>
<line x1="91.5" y1="560" x2="91.5" y2="563" stroke="#000" stroke-width="1"/>
<line x1="91.5" y1="418" x2="91.5" y2="420" stroke="#000" stroke-width="1"/>
<line x1="109.5" y1="560" x2="109.5" y2="564" stroke="#000" stroke-width="1"/>
<line x1="109.5" y1="416" x2="109.5" y2="420" stroke="#000" stroke-width="1"/>
<line x1="127.5" y1="560" x2="127.5" y2="563" stroke="#000" stroke-width="1"/>
<line x1="127.5" y1="418" x2="127.5" y2="420" stroke="#000" stroke-width="1"/>
<line x1="145.5" y1="560" x2="145.5" y2="563" stroke="#000" stroke-width="1"/>
<line x1="145.5" y1="418" x2="145.5" y2="420" stroke="#000" stroke-width="1"/>
<line x1="163.5" y1="560" x2="163.5" y2="564" stroke="#000" stroke-width="1"/>
<line x1="163.5" y1="416" x2="163.5" y2="420" stroke="#000" stroke-width="1"/>
<line x1="181.5" y1="560" x2="181.5" y2="563" stroke="#000" stroke-width="1"/>
<line x1="181.5" y1="418" x2="181.5" y2="420" stroke="#000" stroke-width="1"/>
<line x1="199.5" y1="560" x2="199.5" y2="563" stroke="#000" stroke-width="1"/>
<line x1="199.5" y1="418" x2="199.5" y2="420" stroke="#000" stroke-width="1"/>
<line x1="217.5" y1="560" x2="217.5" y2="564" stroke="#000" stroke-width="1"/>
<line x1="217.5" y1="416" x2="217.5" y2="420" stroke="#000" stroke-width="1"/>
<line x1="235.5" y1="560" x2="235.5" y2="563" stroke="#000" stroke-width="1"/>
<line x1="235.5" y1="418" x2="235.5" y2="420" stroke="#000" stroke-width="1"/>
<line x1="253.5" y1="560" x2="253.5" y2="563" stroke="#000" stroke-width="1"/>
<line x1="253.5" y1="418" x2="253.5" y2="420" stroke="#000" stroke-width="1"/>
<line x1="271.5" y1="560" x2="271.5" y2="564" stroke="#000" stroke-width="1"/>
<line x1="271.5" y1="416" x2="271.5" y2="420" stroke="#000" stroke-width="1"/>
<line x1="289.5" y1="560" x2="289.5" y2="563" stroke="#000" stroke-width="1"/>
<line x1="289.5" y1="418" x2="289.5" y2="420" stroke="#000" stroke-width="1"/>
<line x1="307.5" y1="560" x2="307.5" y2="563" stroke="#000" stroke-width="1"/>
<line x1="307.5" y1="418" x2="307.5" y2="420" stroke="#000" stroke-width="1"/>
<line x1="325.5" y1="560" x2="325.5" y2="564" stroke="#000" stroke-width="1"/>
<line x1="325.5" y1="416" x2="325.5" y2="420" stroke="#000" stroke-width="1"/>
<line x1="343.5" y1="560" x2="343.5" y2="563" stroke="#000" stroke-width="1"/>
<line x1="343.5" y1="418" x2="343.5" y2="420" stroke="#000" stroke-width="1"/>
<line x1="361.5" y1="560" x2="361.5" y2="563" stroke="#000" stroke-width="1"/>
<line x1="361.5" y1="418" x2="361.5" y2="420" stroke="#000" stroke-width="1"/>
<line x1="379.5" y1="560" x2="379.5" y2="564" stroke="#000" stroke-width="1"/>
<line x1="379.5" y1="416" x2="379.5" y2="420" stroke="#000" stroke-width="1"/>
<line x1="397.5" y1="560" x2="397.5" y2="563" stroke="#000" stroke-width="1"/>
<line x1="397.5" y1="418" x2="397.5" y2="420" stroke="#000" stroke-width="1"/>
<line x1="415.5" y1="560" x2="415.5" y2="563" stroke="#000" stroke-width="1"/>
<line x1="415.5" y1="418" x2="415.5" y2="420" stroke="#000" stroke-width="1"/>
<line x1="433.5" y1="560" x2="433.5" y2="564" stroke="#000" stroke-width="1"/>
<line x1="433.5" y1="416" x2="433.5" y2="420" stroke="#000" stroke-width="1"/>
<line x1="451.5" y1="560" x2="451.5" y2="563" stroke="#000" stroke-width="1"/>
<line x1="451.5" y1="418" x2="451.5" y2="420" stroke="#000" stroke-width="1"/>
<line x1="469.5" y1="560" x2="469.5" y2="563" stroke="#000" stroke-width="1"/>
<line x1="469.5" y1="418" x2="469.5" y2="420" stroke="#000" stroke-width="1"/>
<line x1="487.5" y1="560" x2="487.5" y2="564" stroke="#000" stroke-width="1"/>
<line x1="487.5" y1="416" x2="487.5" y2="420" stroke="#000" stroke-width="1"/>
<line x1="505.5" y1="560" x2="505.5" y2="563" stroke="#000" stroke-width="1"/>
<line x1="505.5" y1="418" x2="505.5" y2="420" stroke="#000" stroke-width="1"/>
<line x1="523.5" y1="560" x2="523.5" y2="563" stroke="#000" stroke-width="1"/>
<line x1="523.5" y1="418" x2="523.5" y2="420" stroke="#000" stroke-width="1"/>
<line x1="541.5" y1="560" x2="541.5" y2="564" stroke="#000" stroke-width="1"/>
<line x1="541.5" y1="416" x2="541.5" y2="420" stroke="#000" stroke-width="1"/>
<line x1="559.5" y1="560" x2="559.5" y2="563" stroke="#000" stroke-width="1"/>
<line x1="559.5" y1="418" x2="559.5" y2="420" stroke="#000" stroke-width="1"/>
<line x1="577.5" y1="560" x2="577.5" y2="563" stroke="#000" stroke-width="1"/>
<line x1="577.5" y1="418" x2="577.5" y2="420" stroke="#000" stroke-width="1"/>
<line x1="595.5" y1="560" x2="595.5" y2="564" stroke="#000" stroke-width="1"/>
<line x1="595.5" y1="416" x2="595.5" y2="420" stroke="#000" stroke-width="1"/>
<line x1="613.5" y1="560" x2="613.5" y2="563" stroke="#000" stroke-width="1"/>
<line x1="613.5" y1="418" x2="613.5" y2="420" stroke="#000" stroke-width="1"/>
<line x1="631.5" y1="560" x2="631.5" y2="563" stroke="#000" stroke-width="1"/>
<line x1="631.5" y1="418" x2="631.5" y2="420" stroke="#000" stroke-width="1"/>
<line x1="649.5" y1="560" x2="649.5" y2="564" stroke="#000" stroke-width="1"/>
<line x1="649.5" y1="416" x2="649.5" y2="420" stroke="#000" stroke-width="1"/>
<line x1="667.5" y1="560" x2="667.5" y2="563" stroke="#000" stroke-width="1"/>
<line x1="667.5" y1="418" x2="667.5" y2="420" stroke="#000" stroke-width="1"/>
<line x1="685.5" y1="560" x2="685.5" y2="563" stroke="#000" stroke-width="1"/>
<line x1="685.5" y1="418" x2="685.5" y2="420" stroke="#000" stroke-width="1"/>
<line x1="703.5" y1="560" x2="703.5" y2="564" stroke="#000" stroke-width="1"/>
<line x1="703.5" y1="416" x2="703.5" y2="420" stroke="#000" stroke-width="1"/>
<text x="51" y="424.3" font-size="12" fill="#333" text-anchor="end" font-weight="normal" >1.0</text>
<text x="51" y="452.3" font-size="12" fill="#333" text-anchor="end" font-weight="normal" >0.8</text>
<text x="51" y="480.3" font-size="12" fill="#333" text-anchor="end" font-weight="normal" >0.6</text>
<text x="51" y="508.3" font-size="12" fill="#333" text-anchor="end" font-weight="normal" >0.4</text>
<text x="51" y="536.3" font-size="12" fill="#333" text-anchor="end" font-weight="normal" >0.2</text>
<text x="51" y="564.3" font-size="12" fill="#333" text-anchor="end" font-weight="normal" >0.0</text>
<text x="55.0" y="573.8" font-size="12" fill="#333" text-anchor="middle" font-weight="normal" >18</text>
<text x="109.0" y="573.8" font-size="12" fill="#333" text-anchor="middle" font-weight="normal" >21</text>
<text x="163.0" y="573.8" font-size="12" fill="#333" text-anchor="middle" font-weight="normal" >0</text>
<text x="217.0" y="573.8" font-size="12" fill="#333" text-anchor="middle" font-weight="normal" >3</text>
<text x="271.0" y="573.8" font-size="12" fill="#333" text-anchor="middle" font-weight="normal" >6</text>
<text x="325.0" y="573.8" font-size="12" fill="#333" text-anchor="middle" font-weight="normal" >9</text>
<text x="379.0" y="573.8" font-size="12" fill="#333" text-anchor="middle" font-weight="normal" >12</text>
<text x="433.0" y="573.8" font-size="12" fill="#333" text-anchor="middle" font-weight="normal" >15</text>
<text x="487.0" y="573.8" font-size="12" fill="#333" text-anchor="middle" font-weight="normal" >18</text>
<text x="541.0" y="573.8" font-size="12" fill="#333" text-anchor="middle" font-weight="normal" >21</text>
<text x="595.0" y="573.8" font-size="12" fill="#333" text-anchor="middle" font-weight="normal" >0</text>
<text x="649.0" y="573.8" font-size="12" fill="#333" text-anchor="middle" font-weight="normal" >3</text>
<text x="703.0" y="573.8" font-size="12" fill="#333" text-anchor="middle" font-weight="normal" >6</text>
<rect x="55" y="580" width="648" height="50" fill="#ffffff" />
<rect x="56" y="581" width="107" height="49" fill="#fafafa" />
<rect x="595" y="581" width="108" height="49" fill="#fafafa" />
<line x1="73.5" y1="581" x2="73.5" y2="630" stroke="#f1f1f1" stroke-width="1"/>
<line x1="91.5" y1="581" x2="91.5" y2="630" stroke="#f1f1f1" stroke-width="1"/>
<line x1="109.5" y1="581" x2="109.5" y2="630" stroke="#dcdcdc" stroke-width="1"/>
<line x1="127.5" y1="581" x2="127.5" y2="630" stroke="#f1f1f1" stroke-width="1"/>
<line x1="145.5" y1="581" x2="145.5" y2="630" stroke="#f1f1f1" stroke-width="1"/>
<line x1="163.5" y1="581" x2="163.5" y2="630" stroke="#dcdcdc" stroke-width="1"/>
<line x1="181.5" y1="581" x2="181.5" y2="630" stroke="#f1f1f1" stroke-width="1"/>
<line x1="199.5" y1="581" x2="199.5" y2="630" stroke="#f1f1f1" stroke-width="1"/>
<line x1="217.5" y1="581" x2="217.5" y2="630" stroke="#dcdcdc" stroke-width="1"/>
<line x1="235.5" y1="581" x2="235.5" y2="630" stroke="#f1f1f1" stroke-width="1"/>
<line x1="253.5" y1="581" x2="253.5" y2="630" stroke="#f1f1f1" stroke-width="1"/>
<line x1="271.5" y1="581" x2="271.5" y2="630" stroke="#dcdcdc" stroke-width="1"/>
<line x1="289.5" y1="581" x2="289.5" y2="630" stroke="#f1f1f1" stroke-width="1"/>
<line x1="307.5" y1="581" x2="307.5" y2="630" stroke="#f1f1f1" stroke-width="1"/>
<line x1="325.5" y1="581" x2="325.5" y2="630" stroke="#dcdcdc" stroke-width="1"/>
<line x1="343.5" y1="581" x2="343.5" y2="630" stroke="#f1f1f1" stroke-width="1"/>
<line x1="361.5" y1="581" x2="361.5" y2="630" stroke="#f1f1f1" stroke-width="1"/>
<line x1="379.5" y1="581" x2="379.5" y2="630" stroke="#dcdcdc" stroke-width="1"/>
<line x1="397.5" y1="581" x2="397.5" y2="630" stroke="#f1f1f1" stroke-width="1"/>
<line x1="415.5" y1="581" x2="415.5" y2="630" stroke="#f1f1f1" stroke-width="1"/>
<line x1="433.5" y1="581" x2="433.5" y2="630" stroke="#dcdcdc" stroke-width="1"/>
<line x1="451.5" y1="581" x2="451.5" y2="630" stroke="#f1f1f1" stroke-width="1"/>
<line x1="469.5" y1="581" x2="469.5" y2="630" stroke="#f1f1f1" stroke-width="1"/>
<line x1="487.5" y1="581" x2="487.5" y2="630" stroke="#dcdcdc" stroke-width="1"/>
<line x1="505.5" y1="581" x2="505.5" y2="630" stroke="#f1f1f1" stroke-width="1"/>
<line x1="523.5" y1="581" x2="523.5" y2="630" stroke="#f1f1f1" stroke-width="1"/>
<line x1="541.5" y1="581" x2="541.5" y2="630" stroke="#dcdcdc" stroke-width="1"/>
<line x1="559.5" y1="581" x2="559.5" y2="630" stroke="#f1f1f1" stroke-width="1"/>
<line x1="577.5" y1="581" x2="577.5" y2="630" stroke="#f1f1f1" stroke-width="1"/>
<line x1="595.5" y1="581" x2="595.5" y2="630" stroke="#dcdcdc" stroke-width="1"/>
<line x1="613.5" y1="581" x2="613.5" y2="630" stroke="#f1f1f1" stroke-width="1"/>
<line x1="631.5" y1="581" x2="631.5" y2="630" stroke="#f1f1f1" stroke-width="1"/>
<line x1="649.5" y1="581" x2="649.5" y2="630" stroke="#dcdcdc" stroke-width="1"/>
<line x1="667.5" y1="581" x2="667.5" y2="630" stroke="#f1f1f1" stroke-width="1"/>
<line x1="685.5" y1="581" x2="685.5" y2="630" stroke="#f1f1f1" stroke-width="1"/>
<line x1="361.8" y1="581" x2="361.8" y2="630" stroke="#f5c2c2" stroke-width="1"/>
<line x1="56" y1="626.5" x2="703" y2="626.5" stroke="#efefef" stroke-width="1"/>
<line x1="56" y1="622.5" x2="703" y2="622.5" stroke="#efefef" stroke-width="1"/>
<line x1="56" y1="618.5" x2="703" y2="618.5" stroke="#dcdcdc" stroke-width="1"/>
<line x1="56" y1="613.5" x2="703" y2="613.5" stroke="#efefef" stroke-width="1"/>
<line x1="56" y1="609.5" x2="703" y2="609.5" stroke="#efefef" stroke-width="1"/>
<line x1="56" y1="605.5" x2="703" y2="605.5" stroke="#dcdcdc" stroke-width="1"/>
<line x1="56" y1="601.5" x2="703" y2="601.5" stroke="#efefef" stroke-width="1"/>
<line x1="56" y1="597.5" x2="703" y2="597.5" stroke="#efefef" stroke-width="1"/>
<line x1="56" y1="592.5" x2="703" y2="592.5" stroke="#dcdcdc" stroke-width="1"/>
<line x1="56" y1="588.5" x2="703" y2="588.5" stroke="#efefef" stroke-width="1"/>
<line x1="56" y1="584.5" x2="703" y2="584.5" stroke="#efefef" stroke-width="1"/>
<rect x="68" y="581" width="9" height="49" fill="rgba(0,0,0,0.08)"/>
<rect x="77" y="581" width="14" height="49" fill="rgba(0,0,0,0.13)"/>
<rect x="91" y="581" width="15" height="49" fill="rgba(0,0,0,0.17)"/>
<rect x="106" y="581" width="92" height="49" fill="rgba(0,0,0,0.21)"/>
<rect x="198" y="581" width="16" height="49" fill="rgba(0,0,0,0.17)"/>
<rect x="214" y="581" width="13" height="49" fill="rgba(0,0,0,0.13)"/>
<rect x="227" y="581" width="11" height="49" fill="rgba(0,0,0,0.08)"/>
<rect x="500" y="581" width="10" height="49" fill="rgba(0,0,0,0.08)"/>
<rect x="510" y="581" width="14" height="49" fill="rgba(0,0,0,0.13)"/>
<rect x="524" y="581" width="16" height="49" fill="rgba(0,0,0,0.17)"/>
<rect x="540" y="581" width="89" height="49" fill="rgba(0,0,0,0.21)"/>
<rect x="629" y="581" width="16" height="49" fill="rgba(0,0,0,0.17)"/>
<rect x="645" y="581" width="14" height="49" fill="rgba(0,0,0,0.13)"/>
<rect x="659" y="581" width="10" height="49" fill="rgba(0,0,0,0.08)"/>
<rect x="253" y="581" width="91" height="49" fill="#ffd700"/>
<rect x="235" y="626" width="18" height="4" fill="#ffd700"/>
<line x1="235" y1="626.5" x2="253" y2="626.5" stroke="#f9bf35" stroke-width="1"/>
<line x1="235.5" y1="626" x2="235.5" y2="630" stroke="#f9bf35" stroke-width="1"/>
<line x1="253.5" y1="581" x2="253.5" y2="630" stroke="#f9bf35" stroke-width="1"/>
<line x1="271.5" y1="581" x2="271.5" y2="630" stroke="#f9bf35" stroke-width="1"/>
<line x1="289.5" y1="581" x2="289.5" y2="630" stroke="#f9bf35" stroke-width="1"/>
<line x1="307.5" y1="581" x2="307.5" y2="630" stroke="#f9bf35" stroke-width="1"/>
<line x1="325.5" y1="581" x2="325.5" y2="630" stroke="#f9bf35" stroke-width="1"/>
<line x1="343.5" y1="581" x2="343.5" y2="630" stroke="#f9bf35" stroke-width="1"/>
<line x1="67.5" y1="581" x2="67.5" y2="630" stroke="#ff1a1a" stroke-width="1"/>
<line x1="238.5" y1="581" x2="238.5" y2="630" stroke="#ff1a1a" stroke-width="1"/>
<line x1="499.5" y1="581" x2="499.5" y2="630" stroke="#ff1a1a" stroke-width="1"/>
<line x1="669.5" y1="581" x2="669.5" y2="630" stroke="#ff1a1a" stroke-width="1"/>
<rect x="351" y="627" width="2" height="2" fill="#ff0000"/>
<text x="59" y="593.7" font-size="11" fill="#666" text-anchor="start" >Sd24</text>
<text x="592.6" y="593.7" font-size="11" fill="#666" text-anchor="end" >5h 4m</text>
<text x="152" y="608.7" font-size="12" fill="#000" text-anchor="middle" >Nacht</text>
<text x="584" y="608.7" font-size="12" fill="#000" text-anchor="middle" >Nacht</text>
<text x="69.5" y="625.6" font-size="9" fill="#f41010" text-anchor="start" >Untergang</text>
<text x="235.2" y="625.6" font-size="9" fill="#f41010" text-anchor="end" >Aufgang</text>
<text x="501.5" y="625.6" font-size="9" fill="#f41010" text-anchor="start" >Untergang</text>
<text x="666.5" y="625.6" font-size="9" fill="#f41010" text-anchor="end" >Aufgang</text>
<rect x="55.5" y="580.5" width="648" height="50" fill="none" stroke="#000" stroke-width="1"/>
<line x1="55.5" y1="630" x2="55.5" y2="634" stroke="#000" stroke-width="1"/>
<line x1="55.5" y1="576" x2="55.5" y2="580" stroke="#000" stroke-width="1"/>
<line x1="73.5" y1="630" x2="73.5" y2="633" stroke="#000" stroke-width="1"/>
<line x1="73.5" y1="578" x2="73.5" y2="580" stroke="#000" stroke-width="1"/>
<line x1="91.5" y1="630" x2="91.5" y2="633" stroke="#000" stroke-width="1"/>
<line x1="91.5" y1="578" x2="91.5" y2="580" stroke="#000" stroke-width="1"/>
<line x1="109.5" y1="630" x2="109.5" y2="634" stroke="#000" stroke-width="1"/>
<line x1="109.5" y1="576" x2="109.5" y2="580" stroke="#000" stroke-width="1"/>
<line x1="127.5" y1="630" x2="127.5" y2="633" stroke="#000" stroke-width="1"/>
<line x1="127.5" y1="578" x2="127.5" y2="580" stroke="#000" stroke-width="1"/>
<line x1="145.5" y1="630" x2="145.5" y2="633" stroke="#000" stroke-width="1"/>
<line x1="145.5" y1="578" x2="145.5" y2="580" stroke="#000" stroke-width="1"/>
<line x1="163.5" y1="630" x2="163.5" y2="634" stroke="#000" stroke-width="1"/>
<line x1="163.5" y1="576" x2="163.5" y2="580" stroke="#000" stroke-width="1"/>
<line x1="181.5" y1="630" x2="181.5" y2="633" stroke="#000" stroke-width="1"/>
<line x1="181.5" y1="578" x2="181.5" y2="580" stroke="#000" stroke-width="1"/>
<line x1="199.5" y1="630" x2="199.5" y2="633" stroke="#000" stroke-width="1"/>
<line x1="199.5" y1="578" x2="199.5" y2="580" stroke="#000" stroke-width="1"/>
<line x1="217.5" y1="630" x2="217.5" y2="634" stroke="#000" stroke-width="1"/>
<line x1="217.5" y1="576" x2="217.5" y2="580" stroke="#000" stroke-width="1"/>
<line x1="235.5" y1="630" x2="235.5" y2="633" stroke="#000" stroke-width="1"/>
<line x1="235.5" y1="578" x2="235.5" y2="580" stroke="#000" stroke-width="1"/>
<line x1="253.5" y1="630" x2="253.5" y2="633" stroke="#000" stroke-width="1"/>
<line x1="253.5" y1="578" x2="253.5" y2="580" stroke="#000" stroke-width="1"/>
<line x1="271.5" y1="630" x2="271.5" y2="634" stroke="#000" stroke-width="1"/>
<line x1="271.5" y1="576" x2="271.5" y2="580" stroke="#000" stroke-width="1"/>
<line x1="289.5" y1="630" x2="289.5" y2="633" stroke="#000" stroke-width="1"/>
<line x1="289.5" y1="578" x2="289.5" y2="580" stroke="#000" stroke-width="1"/>
<line x1="307.5" y1="630" x2="307.5" y2="633" stroke="#000" stroke-width="1"/>
<line x1="307.5" y1="578" x2="307.5" y2="580" stroke="#000" stroke-width="1"/>
<line x1="325.5" y1="630" x2="325.5" y2="634" stroke="#000" stroke-width="1"/>
<line x1="325.5" y1="576" x2="325.5" y2="580" stroke="#000" stroke-width="1"/>
<line x1="343.5" y1="630" x2="343.5" y2="633" stroke="#000" stroke-width="1"/>
<line x1="343.5" y1="578" x2="343.5" y2="580" stroke="#000" stroke-width="1"/>
<line x1="361.5" y1="630" x2="361.5" y2="633" stroke="#000" stroke-width="1"/>
<line x1="361.5" y1="578" x2="361.5" y2="580" stroke="#000" stroke-width="1"/>
<line x1="379.5" y1="630" x2="379.5" y2="634" stroke="#000" stroke-width="1"/>
<line x1="379.5" y1="576" x2="379.5" y2="580" stroke="#000" stroke-width="1"/>
<line x1="397.5" y1="630" x2="397.5" y2="633" stroke="#000" stroke-width="1"/>
<line x1="397.5" y1="578" x2="397.5" y2="580" stroke="#000" stroke-width="1"/>
<line x1="415.5" y1="630" x2="415.5" y2="633" stroke="#000" stroke-width="1"/>
<line x1="415.5" y1="578" x2="415.5" y2="580" stroke="#000" stroke-width="1"/>
<line x1="433.5" y1="630" x2="433.5" y2="634" stroke="#000" stroke-width="1"/>
<line x1="433.5" y1="576" x2="433.5" y2="580" stroke="#000" stroke-width="1"/>
<line x1="451.5" y1="630" x2="451.5" y2="633" stroke="#000" stroke-width="1"/>
<line x1="451.5" y1="578" x2="451.5" y2="580" stroke="#000" stroke-width="1"/>
<line x1="469.5" y1="630" x2="469.5" y2="633" stroke="#000" stroke-width="1"/>
<line x1="469.5" y1="578" x2="469.5" y2="580" stroke="#000" stroke-width="1"/>
<line x1="487.5" y1="630" x2="487.5" y2="634" stroke="#000" stroke-width="1"/>
<line x1="487.5" y1="576" x2="487.5" y2="580" stroke="#000" stroke-width="1"/>
<line x1="505.5" y1="630" x2="505.5" y2="633" stroke="#000" stroke-width="1"/>
<line x1="505.5" y1="578" x2="505.5" y2="580" stroke="#000" stroke-width="1"/>
<line x1="523.5" y1="630" x2="523.5" y2="633" stroke="#000" stroke-width="1"/>
<line x1="523.5" y1="578" x2="523.5" y2="580" stroke="#000" stroke-width="1"/>
<line x1="541.5" y1="630" x2="541.5" y2="634" stroke="#000" stroke-width="1"/>
<line x1="541.5" y1="576" x2="541.5" y2="580" stroke="#000" stroke-width="1"/>
<line x1="559.5" y1="630" x2="559.5" y2="633" stroke="#000" stroke-width="1"/>
<line x1="559.5" y1="578" x2="559.5" y2="580" stroke="#000" stroke-width="1"/>
<line x1="577.5" y1="630" x2="577.5" y2="633" stroke="#000" stroke-width="1"/>
<line x1="577.5" y1="578" x2="577.5" y2="580" stroke="#000" stroke-width="1"/>
<line x1="595.5" y1="630" x2="595.5" y2="634" stroke="#000" stroke-width="1"/>
<line x1="595.5" y1="576" x2="595.5" y2="580" stroke="#000" stroke-width="1"/>
<line x1="613.5" y1="630" x2="613.5" y2="633" stroke="#000" stroke-width="1"/>
<line x1="613.5" y1="578" x2="613.5" y2="580" stroke="#000" stroke-width="1"/>
<line x1="631.5" y1="630" x2="631.5" y2="633" stroke="#000" stroke-width="1"/>
<line x1="631.5" y1="578" x2="631.5" y2="580" stroke="#000" stroke-width="1"/>
<line x1="649.5" y1="630" x2="649.5" y2="634" stroke="#000" stroke-width="1"/>
<line x1="649.5" y1="576" x2="649.5" y2="580" stroke="#000" stroke-width="1"/>
<line x1="667.5" y1="630" x2="667.5" y2="633" stroke="#000" stroke-width="1"/>
<line x1="667.5" y1="578" x2="667.5" y2="580" stroke="#000" stroke-width="1"/>
<line x1="685.5" y1="630" x2="685.5" y2="633" stroke="#000" stroke-width="1"/>
<line x1="685.5" y1="578" x2="685.5" y2="580" stroke="#000" stroke-width="1"/>
<line x1="703.5" y1="630" x2="703.5" y2="634" stroke="#000" stroke-width="1"/>
<line x1="703.5" y1="576" x2="703.5" y2="580" stroke="#000" stroke-width="1"/>
<text x="51" y="584.3" font-size="12" fill="#333" text-anchor="end" font-weight="normal" >60</text>
<text x="51" y="596.8" font-size="12" fill="#333" text-anchor="end" font-weight="normal" >45</text>
<text x="51" y="609.3" font-size="12" fill="#333" text-anchor="end" font-weight="normal" >30</text>
<text x="51" y="621.8" font-size="12" fill="#333" text-anchor="end" font-weight="normal" >15</text>
<text x="51" y="634.3" font-size="12" fill="#333" text-anchor="end" font-weight="normal" >0</text>
<text x="55.0" y="643.7" font-size="12" fill="#333" text-anchor="middle" font-weight="normal" >18</text>
<text x="109.0" y="643.7" font-size="12" fill="#333" text-anchor="middle" font-weight="normal" >21</text>
<text x="163.0" y="643.7" font-size="12" fill="#333" text-anchor="middle" font-weight="normal" >0</text>
<text x="217.0" y="643.7" font-size="12" fill="#333" text-anchor="middle" font-weight="normal" >3</text>
<text x="271.0" y="643.7" font-size="12" fill="#333" text-anchor="middle" font-weight="normal" >6</text>
<text x="325.0" y="643.7" font-size="12" fill="#333" text-anchor="middle" font-weight="normal" >9</text>
<text x="379.0" y="643.7" font-size="12" fill="#333" text-anchor="middle" font-weight="normal" >12</text>
<text x="433.0" y="643.7" font-size="12" fill="#333" text-anchor="middle" font-weight="normal" >15</text>
<text x="487.0" y="643.7" font-size="12" fill="#333" text-anchor="middle" font-weight="normal" >18</text>
<text x="541.0" y="643.7" font-size="12" fill="#333" text-anchor="middle" font-weight="normal" >21</text>
<text x="595.0" y="643.7" font-size="12" fill="#333" text-anchor="middle" font-weight="normal" >0</text>
<text x="649.0" y="643.7" font-size="12" fill="#333" text-anchor="middle" font-weight="normal" >3</text>
<text x="703.0" y="643.7" font-size="12" fill="#333" text-anchor="middle" font-weight="normal" >6</text>
<text x="109.0" y="662" font-size="14" fill="#333" text-anchor="middle" font-weight="normal" >29.04.2026</text>
<text x="379.0" y="662" font-size="14" fill="#333" text-anchor="middle" font-weight="normal" >Donnerstag, 30.04.2026</text>
<text x="649.0" y="662" font-size="14" fill="#333" text-anchor="middle" font-weight="normal" >01.05.2026</text>
<text x="364" y="676.5" font-size="11" fill="#999" text-anchor="middle" font-weight="normal" >Erstellt von mtwetter.de | Datenbasis: Deutscher Wetterdienst, dwd.de | 30.04.2026, 11:01 UTC</text>
<text x="27" y="175" font-size="12" fill="#333" text-anchor="middle" transform="rotate(-90 27 175)">°C</text>
<text x="27" y="347.5" font-size="12" fill="#333" text-anchor="middle" transform="rotate(-90 27 347.5)">%</text>
<text x="22" y="490" font-size="12" fill="#333" text-anchor="middle" transform="rotate(-90 22 490)">mm</text>
<text x="27" y="605" font-size="12" fill="#333" text-anchor="middle" transform="rotate(-90 27 605)">Minuten</text>
<text x="720" y="175" font-size="12" fill="#333" text-anchor="middle" transform="rotate(-90 720 175)">Temperatur &amp; Taupunkt</text>
<text x="720" y="347.5" font-size="12" fill="#333" text-anchor="middle" transform="rotate(-90 720 347.5)">relative Feuchte</text>
<text x="720" y="490" font-size="12" fill="#333" text-anchor="middle" transform="rotate(-90 720 490)">Niederschlag</text>
<text x="720" y="605" font-size="12" fill="#333" text-anchor="middle" transform="rotate(-90 720 605)">Sonne</text>
</svg>
</body></html>
